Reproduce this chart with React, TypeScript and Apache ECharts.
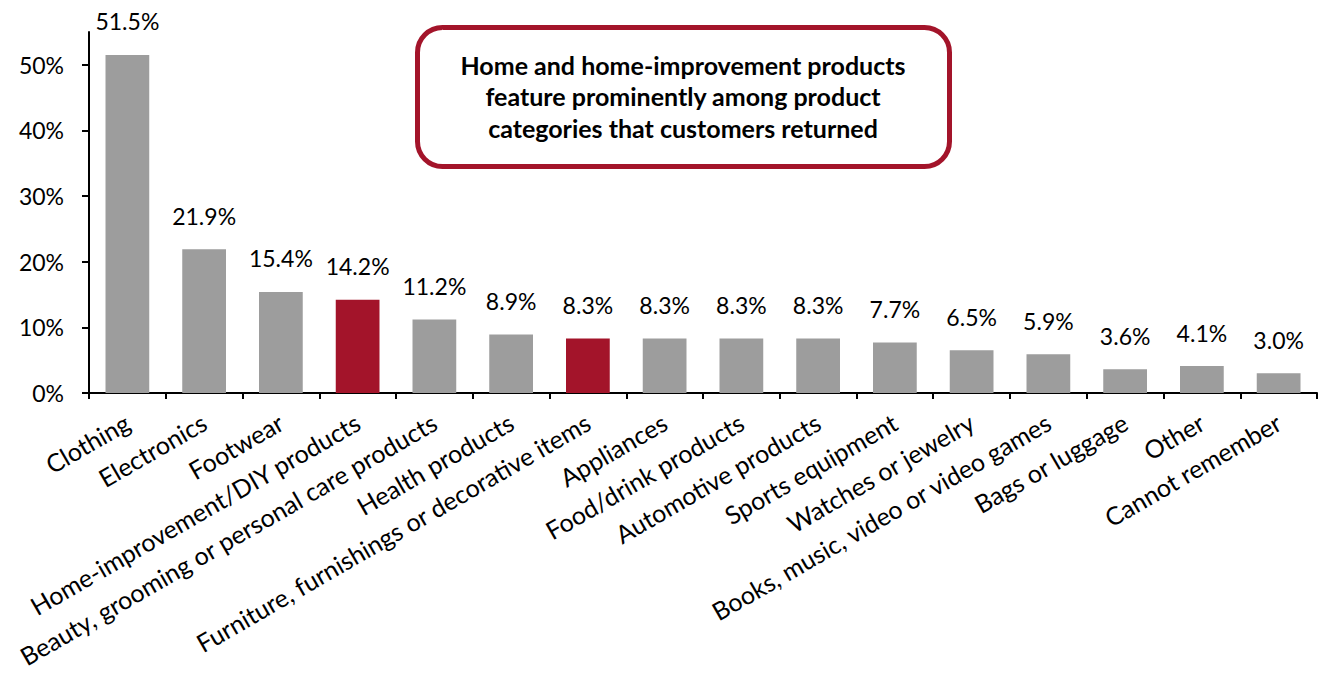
import React, { useEffect, useRef } from "react";
import * as echarts from "echarts";

const categories = [
  "Clothing",
  "Electronics",
  "Footwear",
  "Home-improvement/DIY products",
  "Beauty, grooming or personal care products",
  "Health products",
  "Furniture, furnishings or decorative items",
  "Appliances",
  "Food/drink products",
  "Automotive products",
  "Sports equipment",
  "Watches or jewelry",
  "Books, music, video or video games",
  "Bags or luggage",
  "Other",
  "Cannot remember",
];
const values = [51.5, 21.9, 15.4, 14.2, 11.2, 8.9, 8.3, 8.3, 8.3, 8.3, 7.7, 6.5, 5.9, 3.6, 4.1, 3.0];
const highlighted = [3, 6];
const yTicks = [0, 10, 20, 30, 40, 50];
const noteLines = [
  "Home and home-improvement products",
  "feature prominently among product",
  "categories that customers returned",
];

const GRAY = "#9D9D9D";
const RED = "#A3142A";
const FONT = "Lato, 'Open Sans', sans-serif";

export default function App() {
  const ref = useRef<HTMLDivElement>(null);
  useEffect(() => {
    document.body.style.margin = "0";
    const chart = echarts.init(ref.current!, null, { renderer: "svg" });
    chart.setOption({
      animation: false,
      textStyle: { fontFamily: FONT },
      grid: { left: 89, right: 13, top: 32, bottom: 302, containLabel: false },
      xAxis: {
        type: "category",
        data: categories,
        axisLine: { lineStyle: { color: "#000", width: 2 } },
        axisTick: { show: true, length: 6, lineStyle: { color: "#000", width: 2 } },
        axisLabel: {
          interval: 0,
          rotate: 30,
          fontSize: 25,
          color: "#000",
          margin: 27,
          fontFamily: FONT,
        },
      },
      yAxis: {
        type: "value",
        min: 0,
        max: 55,
        interval: 10,
        splitLine: { show: false },
        axisLine: { show: true, lineStyle: { color: "#000", width: 2 } },
        axisTick: {
          show: true,
          length: 7,
          customValues: yTicks,
          lineStyle: { color: "#000", width: 2 },
        },
        axisLabel: {
          customValues: yTicks,
          formatter: (v: number) => `${v}%`,
          fontSize: 23,
          color: "#000",
          margin: 25,
          fontFamily: FONT,
        },
      },
      series: [
        {
          type: "bar",
          data: values.map((v, i) => ({
            value: v,
            itemStyle: { color: highlighted.includes(i) ? RED : GRAY },
          })),
          barCategoryGap: "43%",
          label: {
            show: true,
            position: "top",
            distance: 22,
            formatter: (p: any) => `${p.value.toFixed(1)}%`,
            fontSize: 23,
            color: "#000",
            fontFamily: FONT,
          },
        },
      ],
      graphic: [
        {
          type: "rect",
          shape: { x: 417.5, y: 27.5, width: 532, height: 139, r: 25 },
          style: { fill: "#fff", stroke: RED, lineWidth: 5 },
        },
        {
          type: "text",
          x: 683,
          y: 96,
          style: {
            text: noteLines.join("\n"),
            fill: "#000",
            font: `bold 25px ${FONT}`,
            align: "center",
            verticalAlign: "middle",
            lineHeight: 31.5,
          },
        },
      ],
    });
    return () => chart.dispose();
  }, []);
  return <div ref={ref} style={{ width: 1330, height: 695 }} />;
}
